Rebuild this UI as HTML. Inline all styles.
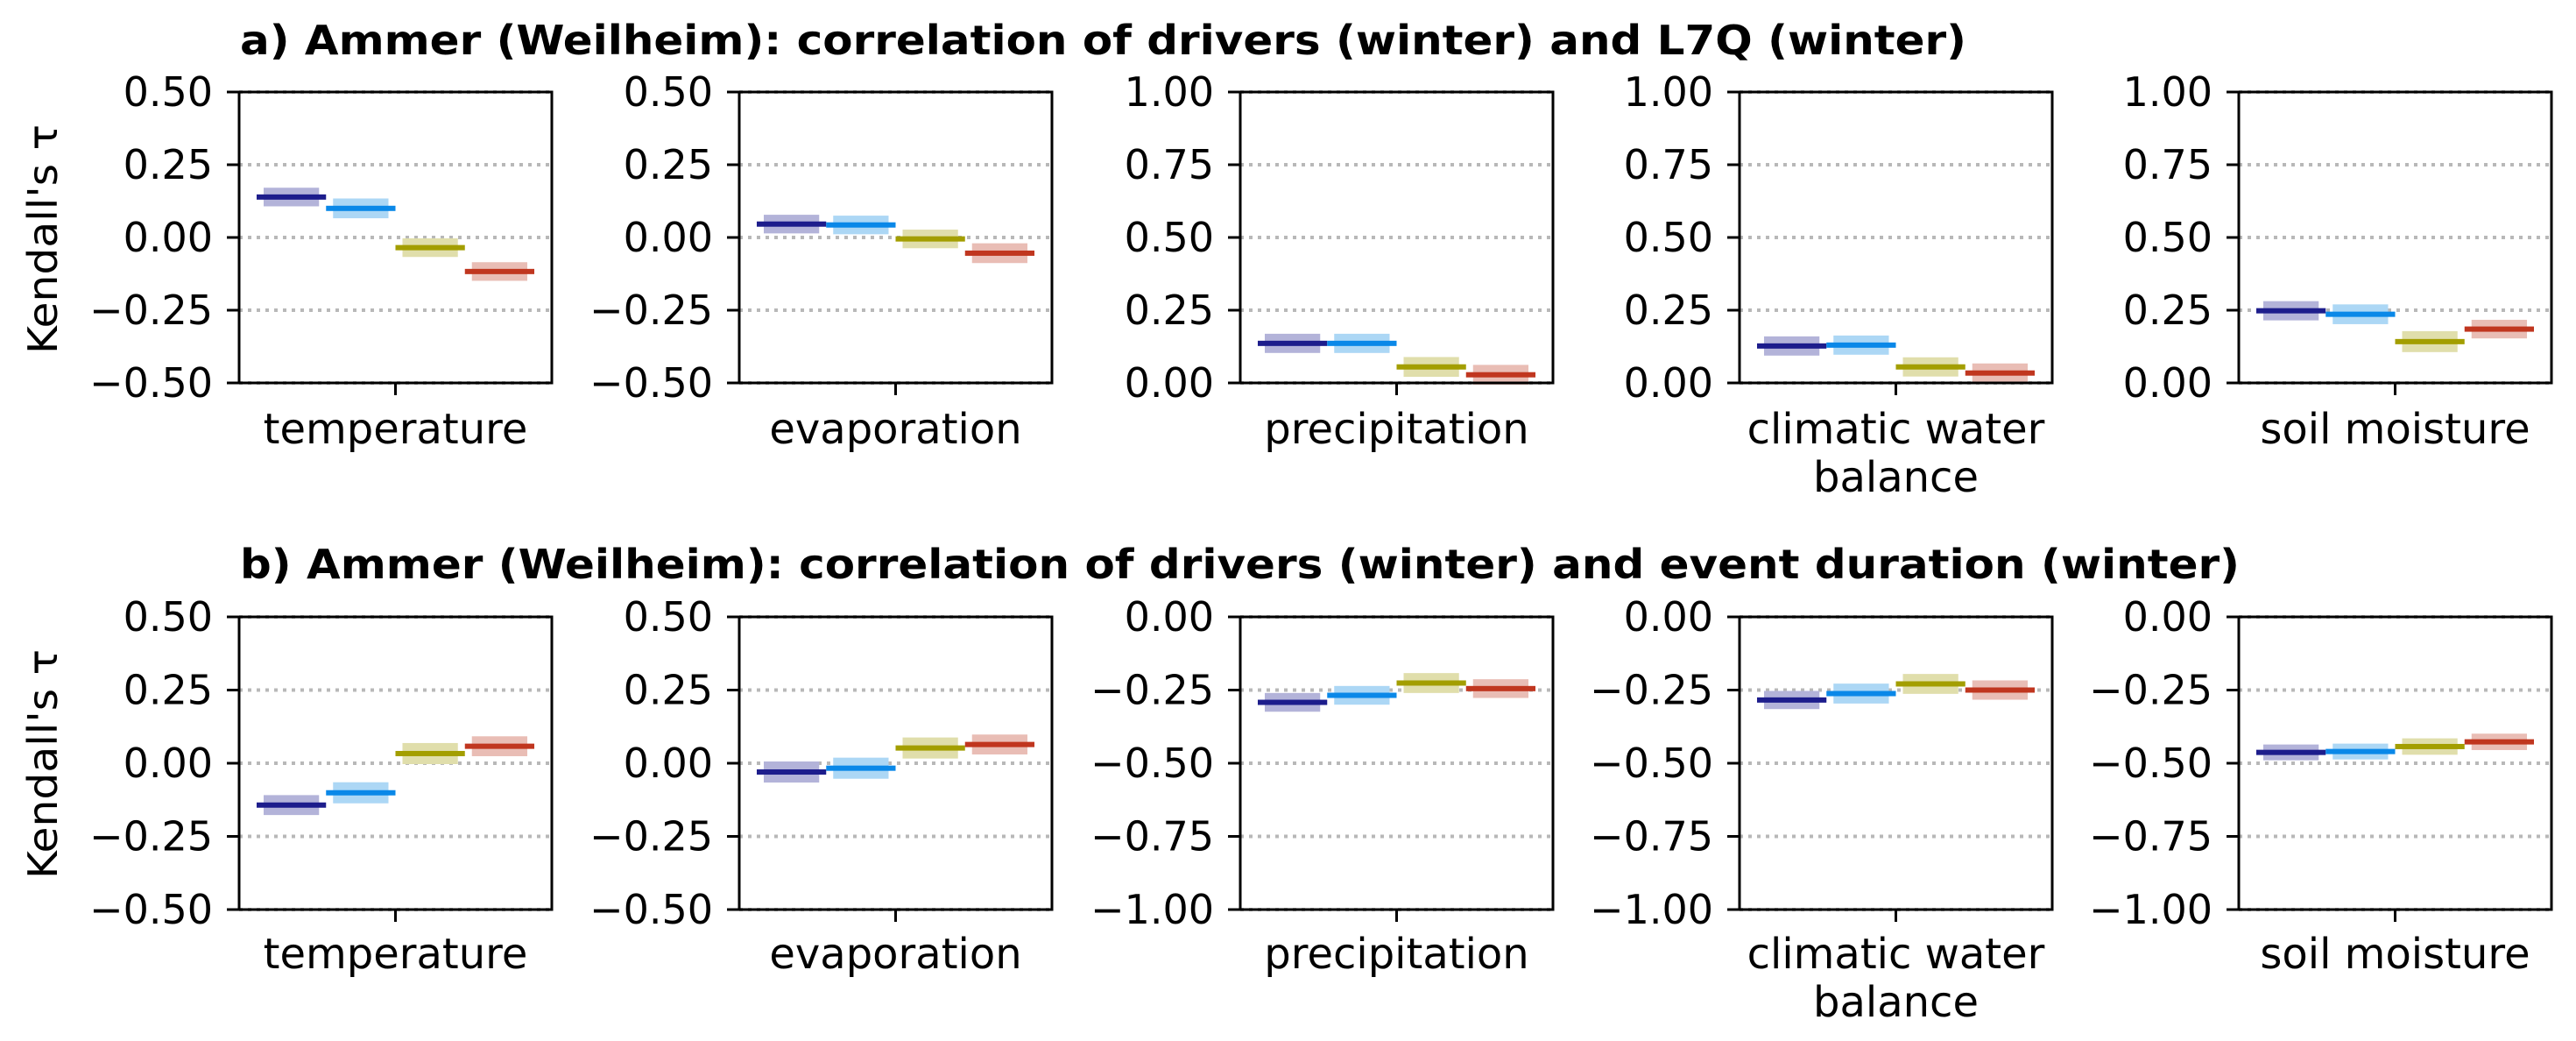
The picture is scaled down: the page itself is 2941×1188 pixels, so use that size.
<!DOCTYPE html>
<html><head><meta charset="utf-8"><style>
html,body{margin:0;padding:0;background:#fff;}
svg{display:block;font-family:"DejaVu Sans","Liberation Sans",sans-serif;}
</style></head><body>
<svg id="chart" width="2941" height="1188" viewBox="0 0 2941 1188" xmlns="http://www.w3.org/2000/svg">
<text x="274" y="62" font-size="46" font-weight="bold" textLength="1971" lengthAdjust="spacingAndGlyphs">a) Ammer (Weilheim): correlation of drivers (winter) and L7Q (winter)</text>
<text x="274" y="660" font-size="46" font-weight="bold" textLength="2283" lengthAdjust="spacingAndGlyphs">b) Ammer (Weilheim): correlation of drivers (winter) and event duration (winter)</text>
<text transform="translate(65,273) rotate(-90)" text-anchor="middle" font-size="46" textLength="262" lengthAdjust="spacingAndGlyphs">Kendall's τ</text>
<text transform="translate(65,872) rotate(-90)" text-anchor="middle" font-size="46" textLength="262" lengthAdjust="spacingAndGlyphs">Kendall's τ</text>
<g id="plots"></g>
</svg>
<script>
const drivers = ["temperature","evaporation","precipitation","climatic water|balance","soil moisture"];
const seriesColors = ["#1d1d8c","#0a88e8","#a39e00","#c0361f"];
const bandColors = ["#b3b3d9","#acd7f5","#e0deab","#e9bdb5"];
// row a: L7Q
const rowAValues = [
  [0.139,0.100,-0.035,-0.117],
  [0.046,0.043,-0.005,-0.054],
  [0.136,0.136,0.055,0.028],
  [0.127,0.130,0.055,0.034],
  [0.248,0.236,0.142,0.185]
];
const rowAHalfWidth = [
  [0.032,0.034,0.032,0.032],
  [0.032,0.032,0.032,0.034],
  [0.033,0.033,0.034,0.034],
  [0.033,0.033,0.033,0.033],
  [0.033,0.034,0.036,0.032]
];
// row b: event duration
const rowBValues = [
  [-0.143,-0.101,0.033,0.058],
  [-0.030,-0.017,0.052,0.064],
  [-0.292,-0.268,-0.226,-0.245],
  [-0.284,-0.262,-0.229,-0.250],
  [-0.463,-0.460,-0.443,-0.427]
];
const rowBHalfWidth = [
  [0.034,0.036,0.036,0.034],
  [0.036,0.036,0.036,0.034],
  [0.032,0.032,0.034,0.032],
  [0.031,0.034,0.034,0.033],
  [0.027,0.027,0.028,0.028]
];
const rowARanges = [[-0.5,0.5],[-0.5,0.5],[0,1],[0,1],[0,1]];
const rowBRanges = [[-0.5,0.5],[-0.5,0.5],[-1,0],[-1,0],[-1,0]];
const tickCount = 5;

const NS="http://www.w3.org/2000/svg";
const root=document.getElementById('plots');
const panelLefts=[273,844,1416,1986,2556];
const PW=357;
const rows=[{top:105,bot:437,vals:rowAValues,hw:rowAHalfWidth,ranges:rowARanges,lab:506,tag:'a'},
            {top:704,bot:1038,vals:rowBValues,hw:rowBHalfWidth,ranges:rowBRanges,lab:1105,tag:'b'}];
function mk(tag,attrs,parent){const e=document.createElementNS(NS,tag);for(const k in attrs)e.setAttribute(k,attrs[k]);parent.appendChild(e);return e;}
function fmt(v){const s=Math.abs(v).toFixed(2);return (v<-1e-9?'\u2212':'')+s;}
rows.forEach((row)=>{
  drivers.forEach((d,p)=>{
    const L=panelLefts[p],R=L+PW,T=row.top,B=row.bot;
    const [lo,hi]=row.ranges[p];
    const y=v=>B-(v-lo)/(hi-lo)*(B-T);
    const g=mk('g',{},root);
    
    
    for(let i=0;i<tickCount;i++){
      const v=lo+(hi-lo)*i/(tickCount-1);
      const yy=y(v);
      const gl=mk('line',{x1:L,x2:R,y1:yy,y2:yy,stroke:'#b8b8b8','stroke-width':4,'stroke-dasharray':'4 6'},g);
      
      
      const tk=mk('line',{x1:L-14,x2:L,y1:yy,y2:yy,stroke:'#000','stroke-width':3},g);
      
      
      const t=mk('text',{x:L-30,y:yy+16,'text-anchor':'end','font-size':46},g);
      t.textContent=fmt(v);
      
      
    }
    const gw=(PW*0.888)/4, x0=L+PW*0.056;
    row.vals[p].forEach((v,s)=>{
      const h=row.hw[p][s];
      const gx=x0+gw*s;
      const band=mk('rect',{x:gx+8,width:gw-16,y:y(v+h),height:y(v-h)-y(v+h),fill:bandColors[s]},g);
      
      
      const ln=mk('rect',{x:gx,width:gw,y:y(v)-3,height:6,fill:seriesColors[s]},g);
      
      
    });
    const fr=mk('rect',{x:L,y:T,width:PW,height:B-T,fill:'none',stroke:'#000','stroke-width':3},g);
    
    
    const cx=L+PW/2;
    const xt=mk('line',{x1:cx,x2:cx,y1:B,y2:B+14,stroke:'#000','stroke-width':3},g);
    
    
    d.split('|').forEach((part,k)=>{
      const t=mk('text',{x:cx,y:row.lab+k*55,'text-anchor':'middle','font-size':48},g);
      t.textContent=part;
      
      
    });
  });
});
</script>
</body></html>
